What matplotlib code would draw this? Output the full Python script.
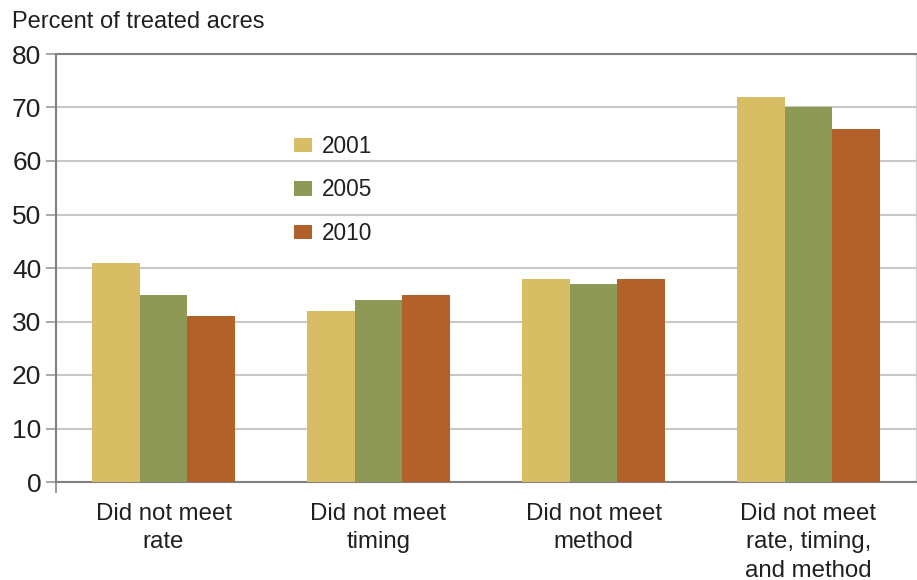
import numpy as np
import matplotlib
matplotlib.use("Agg")
import matplotlib.pyplot as plt
from matplotlib.patches import Patch

plt.rcParams['font.family'] = ['Liberation Sans', 'DejaVu Sans']

categories = ["Did not meet\nrate", "Did not meet\ntiming", "Did not meet\nmethod",
              "Did not meet\nrate, timing,\nand method"]
years = ["2001", "2005", "2010"]
vals_2001 = [41, 32, 38, 72]
vals_2005 = [35, 34, 37, 70]
vals_2010 = [31, 35, 38, 66]
colors = ["#D7BE64", "#8D9955", "#B26128"]

fig = plt.figure(figsize=(9.17, 5.8), dpi=100)
ax = fig.add_axes([56/917, 1-482/580, (916-56)/917, (482-54)/580])

x = np.arange(len(categories))
w = 0.222
for i, vals in enumerate([vals_2001, vals_2005, vals_2010]):
    ax.bar(x + (i-1)*w, vals, width=w, color=colors[i], zorder=3)

ax.set_xlim(-0.5, 3.5)
ax.set_ylim(0, 80)
ax.set_yticks(range(0, 81, 10))
ax.grid(axis='y', color='#c8c8c8', linewidth=1.5, zorder=0)
ax.set_axisbelow(True)

ax.set_xticks(x)
ax.set_xticklabels(categories, fontsize=17.3, color='#231f20', linespacing=1.38, va='top')
ax.tick_params(axis='x', length=0, pad=15)
ax.set_xticks([-0.5], minor=True)
ax.tick_params(axis='x', which='minor', length=8, color='#888888', width=1.2)
ax.tick_params(axis='y', length=7, color='#999999', width=1.2, labelsize=19,
               labelcolor='#231f20', pad=3.5)

for s in ['left', 'bottom', 'top']:
    ax.spines[s].set_color('#808080')
    ax.spines[s].set_linewidth(1.5)
ax.spines['right'].set_color('#d0d0d0')
ax.spines['right'].set_linewidth(1.0)

fig.text(12/917, 1-28/580, "Percent of treated acres", fontsize=17, color='#231f20',
         va='baseline', ha='left')

handles = [Patch(facecolor=c, edgecolor='none') for c in colors]
fig.legend(handles, years, loc='upper left', bbox_to_anchor=(294/917, 1-135/580),
           frameon=False, fontsize=16.3, handlelength=0.8, handleheight=0.6,
           handletextpad=0.45, labelspacing=0.9, borderpad=0, borderaxespad=0,
           labelcolor='#231f20')

fig.savefig("out.png", dpi=100)
